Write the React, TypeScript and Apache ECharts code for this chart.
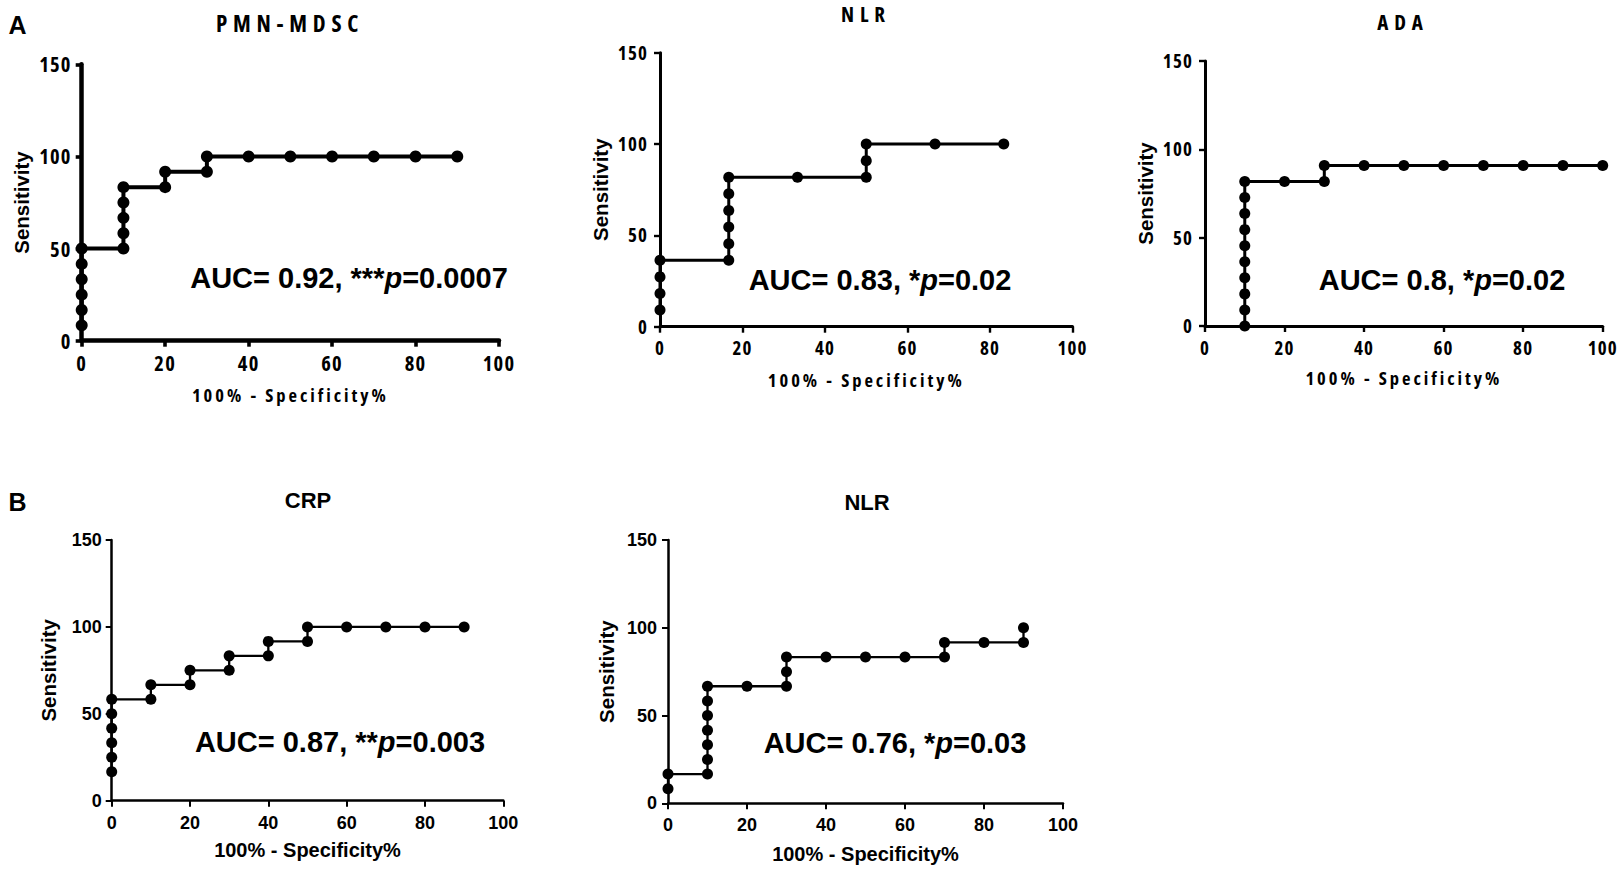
import React, { useEffect, useRef } from "react";
import * as echarts from "echarts";

// ---------- data ----------
const xTickMax = 100;
const yTickMax = 150;

const pmnTitle = "PMN-MDSC";
const pmnX = [0, 0, 0, 0, 0, 0, 10, 10, 10, 10, 10, 20, 20, 30, 30, 40, 50, 60, 70, 80, 90];
const pmnY = [8.33, 16.67, 25, 33.33, 41.67, 50, 50, 58.33, 66.67, 75, 83.33, 83.33, 91.67, 91.67, 100, 100, 100, 100, 100, 100, 100];
const pmnAuc = "AUC= 0.92, ***{i|p}=0.0007";

const nlrATitle = "NLR";
const nlrAX = [0, 0, 0, 0, 16.67, 16.67, 16.67, 16.67, 16.67, 16.67, 33.33, 50, 50, 50, 66.67, 83.33];
const nlrAY = [9.09, 18.18, 27.27, 36.36, 36.36, 45.45, 54.55, 63.64, 72.73, 81.82, 81.82, 81.82, 90.91, 100, 100, 100];
const nlrAAuc = "AUC= 0.83, *{i|p}=0.02";

const adaTitle = "ADA";
const adaX = [10, 10, 10, 10, 10, 10, 10, 10, 10, 10, 20, 30, 30, 40, 50, 60, 70, 80, 90, 100];
const adaY = [0, 9.09, 18.18, 27.27, 36.36, 45.45, 54.55, 63.64, 72.73, 81.82, 81.82, 81.82, 90.91, 90.91, 90.91, 90.91, 90.91, 90.91, 90.91, 90.91];
const adaAuc = "AUC= 0.8, *{i|p}=0.02";

const crpTitle = "CRP";
const crpX = [0, 0, 0, 0, 0, 0, 10, 10, 20, 20, 30, 30, 40, 40, 50, 50, 60, 70, 80, 90];
const crpY = [16.67, 25, 33.33, 41.67, 50, 58.33, 58.33, 66.67, 66.67, 75, 75, 83.33, 83.33, 91.67, 91.67, 100, 100, 100, 100, 100];
const crpAuc = "AUC= 0.87, **{i|p}=0.003";

const nlrBTitle = "NLR";
const nlrBX = [0, 0, 10, 10, 10, 10, 10, 10, 10, 20, 30, 30, 30, 40, 50, 60, 70, 70, 80, 90, 90];
const nlrBY = [8.33, 16.67, 16.67, 25, 33.33, 41.67, 50, 58.33, 66.67, 66.67, 66.67, 75, 83.33, 83.33, 83.33, 83.33, 83.33, 91.67, 91.67, 91.67, 100];
const nlrBAuc = "AUC= 0.76, *{i|p}=0.03";

const xName = "100% - Specificity%";
const yName = "Sensitivity";
const panelLetters = ["A", "B"];

// ---------- styling ----------
const NARROW = "'Open Sans', 'Liberation Sans', sans-serif";
const ARIAL = "'Liberation Sans', Arial, Helvetica, sans-serif";

type Layout = {
  left: number; top: number; width: number; height: number;
  titleX: number; titleY: number; aucX: number; aucY: number;
  fam: string; tickSize: number; titleSize: number; nameSize: number;
  axisW: number; lineW: number; sym: number;
  yGap: number; xGap: number; xMargin: number; yMargin: number;
};

const panels = [
  {
    title: pmnTitle, xs: pmnX, ys: pmnY, auc: pmnAuc,
    l: { left: 81.7, top: 64.3, width: 417.3, height: 276.4, titleX: 290, titleY: 23, aucX: 349, aucY: 278,
      fam: NARROW, tickSize: 20.5, titleSize: 23, nameSize: 18.5, axisW: 4.5, lineW: 4, sym: 12,
      yGap: 50, xGap: 44, xMargin: 12, yMargin: 10 } as Layout,
  },
  {
    title: nlrATitle, xs: nlrAX, ys: nlrAY, auc: nlrAAuc,
    l: { left: 660, top: 52.7, width: 412.5, height: 274, titleX: 866, titleY: 13.5, aucX: 880, aucY: 280,
      fam: NARROW, tickSize: 19, titleSize: 21, nameSize: 18.5, axisW: 3, lineW: 3, sym: 11,
      yGap: 49, xGap: 43, xMargin: 12, yMargin: 12 } as Layout,
  },
  {
    title: adaTitle, xs: adaX, ys: adaY, auc: adaAuc,
    l: { left: 1205, top: 61, width: 398, height: 265, titleX: 1403, titleY: 22, aucX: 1442, aucY: 280,
      fam: NARROW, tickSize: 19, titleSize: 21, nameSize: 18.5, axisW: 3, lineW: 3, sym: 11,
      yGap: 49, xGap: 42, xMargin: 12, yMargin: 12 } as Layout,
  },
  {
    title: crpTitle, xs: crpX, ys: crpY, auc: crpAuc,
    l: { left: 111.7, top: 540, width: 391.6, height: 260.7, titleX: 308, titleY: 500, aucX: 340, aucY: 742,
      fam: ARIAL, tickSize: 18, titleSize: 22, nameSize: 20, axisW: 2.5, lineW: 2.3, sym: 11,
      yGap: 53, xGap: 39, xMargin: 13, yMargin: 10 } as Layout,
  },
  {
    title: nlrBTitle, xs: nlrBX, ys: nlrBY, auc: nlrBAuc,
    l: { left: 668, top: 540, width: 395, height: 263.3, titleX: 867, titleY: 502, aucX: 895, aucY: 743,
      fam: ARIAL, tickSize: 18, titleSize: 22, nameSize: 20, axisW: 2.5, lineW: 2.3, sym: 11,
      yGap: 51, xGap: 41, xMargin: 13, yMargin: 11 } as Layout,
  },
];

const letterPos = [
  { x: 17.5, y: 25 },
  { x: 17.5, y: 502 },
];

// condensed, letter-spaced lettering of the upper (A) panels
const css = `
#root svg text[style*="Open Sans"] { font-stretch: 75%; letter-spacing: 0.06em; }
#root svg text[style*="Open Sans"][style*="21px"] { letter-spacing: 0.28em; }
#root svg text[style*="Open Sans"][style*="23px"] { letter-spacing: 0.25em; }
#root svg text[style*="Open Sans"][style*="18.5px"] { letter-spacing: 0.16em; }
`;

function buildOption() {
  const grid: any[] = [];
  const xAxis: any[] = [];
  const yAxis: any[] = [];
  const series: any[] = [];
  const graphic: any[] = [];

  panels.forEach((p, i) => {
    const l = p.l;
    const fam = l.fam;
    grid.push({ left: l.left, top: l.top, width: l.width, height: l.height, containLabel: false });
    const common = {
      gridIndex: i,
      type: "value",
      min: 0,
      splitLine: { show: false },
      axisLine: { show: true, onZero: false, lineStyle: { color: "#000", width: l.axisW } },
      axisTick: { show: true, length: 6, lineStyle: { color: "#000", width: l.axisW * 0.8 } },
    };
    xAxis.push({
      ...common,
      max: xTickMax,
      interval: 20,
      axisLabel: { show: true, showMinLabel: true, showMaxLabel: true, color: "#000", fontFamily: fam, fontSize: l.tickSize, fontWeight: "bold", margin: l.xMargin },
      name: xName,
      nameLocation: "middle",
      nameGap: l.xGap,
      nameTextStyle: { color: "#000", fontFamily: fam, fontSize: l.nameSize, fontWeight: "bold" },
    });
    yAxis.push({
      ...common,
      max: yTickMax,
      interval: 50,
      axisLabel: { show: true, showMinLabel: true, showMaxLabel: true, color: "#000", fontFamily: fam, fontSize: l.tickSize, fontWeight: "bold", margin: l.yMargin },
      name: yName,
      nameLocation: "middle",
      nameRotate: 90,
      nameGap: l.yGap,
      nameTextStyle: { color: "#000", fontFamily: ARIAL, fontSize: 20.5, fontWeight: "bold" },
    });
    series.push({
      type: "line",
      name: p.title + " " + i,
      xAxisIndex: i,
      yAxisIndex: i,
      data: p.xs.map((x, k) => [x, p.ys[k]]),
      symbol: "circle",
      symbolSize: l.sym,
      showAllSymbol: true,
      clip: false,
      lineStyle: { color: "#000", width: l.lineW },
      itemStyle: { color: "#000" },
      z: 5,
    });
    graphic.push({
      type: "text",
      x: l.titleX,
      y: l.titleY,
      style: {
        text: p.title,
        fill: "#000",
        fontFamily: fam,
        fontSize: l.titleSize,
        fontWeight: "bold",
        align: "center",
        verticalAlign: "middle",
      },
    });
    graphic.push({
      type: "text",
      x: l.aucX,
      y: l.aucY,
      style: {
        text: p.auc,
        fill: "#000",
        fontFamily: ARIAL,
        fontSize: 29,
        fontWeight: "bold",
        align: "center",
        verticalAlign: "middle",
        rich: {
          i: { fontFamily: ARIAL, fontSize: 29, fontWeight: "bold", fontStyle: "italic", fill: "#000" },
        },
      },
    });
  });

  panelLetters.forEach((t, i) => {
    graphic.push({
      type: "text",
      x: letterPos[i].x,
      y: letterPos[i].y,
      style: { text: t, fill: "#000", fontFamily: ARIAL, fontSize: 25, fontWeight: "bold", align: "center", verticalAlign: "middle" },
    });
  });

  return {
    animation: false,
    backgroundColor: "#fff",
    grid,
    xAxis,
    yAxis,
    series,
    graphic,
  };
}

export default function App() {
  const ref = useRef<HTMLDivElement>(null);
  useEffect(() => {
    if (!ref.current) return;
    const chart = echarts.init(ref.current, null, { renderer: "svg" });
    chart.setOption(buildOption() as any);
    return () => chart.dispose();
  }, []);
  return (
    <>
      <style>{css}</style>
      <div
        ref={ref}
        style={{ position: "fixed", left: 0, top: 0, width: 1622, height: 873, background: "#fff" }}
      />
    </>
  );
}
